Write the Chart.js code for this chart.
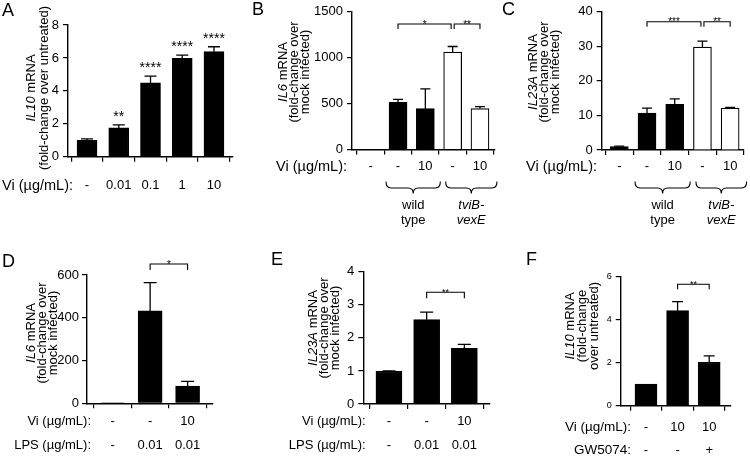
<!DOCTYPE html>
<html><head><meta charset="utf-8">
<script src="https://cdn.jsdelivr.net/npm/chart.js@4.4.0/dist/chart.umd.min.js"></script>
<style>
html,body{margin:0;padding:0;background:#fff;}
#wrap{position:relative;width:750px;height:456px;overflow:hidden;background:#fff;}
#wrap canvas{position:absolute;left:0;top:0;}
</style></head><body><div id="wrap"></div>
<script>
// ---------- Panel A : IL10, Vi dose ----------
const catsA   = ['-', '0.01', '0.1', '1', '10'];
const valsA   = [1.0, 1.75, 4.48, 5.97, 6.38];
const errA    = [0.08, 0.18, 0.42, 0.2, 0.3];
const sigA    = ['', '**', '****', '****', '****'];
const yTicksA = [0, 2, 4, 6, 8];
// ---------- Panel B : IL6, strains ----------
const viB     = ['-', '-', '10', '-', '10'];
const valsB   = [1, 515, 445, 1060, 445];
const errB    = [0, 30, 215, 62, 22];
const fillB   = ['black', 'black', 'black', 'white', 'white'];
const yTicksB = [0, 500, 1000, 1500];
const sigB    = [{from: 1, to: 3, text: '*'}, {from: 3, to: 4, text: '**'}];
// ---------- Panel C : IL23A, strains ----------
const viC     = ['-', '-', '10', '-', '10'];
const valsC   = [1.0, 10.7, 13.2, 29.8, 12.1];
const errC    = [0.1, 1.4, 1.6, 1.7, 0.2];
const fillC   = ['black', 'black', 'black', 'white', 'white'];
const yTicksC = [0, 10, 20, 30, 40];
const sigC    = [{from: 1, to: 3, text: '***'}, {from: 3, to: 4, text: '**'}];
// strain groups (B and C)
const strainNames = [{lines: ['wild', 'type'], italic: false}, {lines: ['tviB-', 'vexE'], italic: true}];
// ---------- Panel D : IL6, LPS ----------
const viD     = ['-', '-', '10'];
const lpsD    = ['-', '0.01', '0.01'];
const valsD   = [1, 432, 80];
const errD    = [0, 132, 23];
const yTicksD = [0, 200, 400, 600];
const sigD    = [{from: 1, to: 2, text: '*'}];
// ---------- Panel E : IL23A, LPS ----------
const viE     = ['-', '-', '10'];
const lpsE    = ['-', '0.01', '0.01'];
const valsE   = [0.99, 2.55, 1.68];
const errE    = [0.01, 0.23, 0.12];
const yTicksE = [0, 1, 2, 3, 4];
const sigE    = [{from: 1, to: 2, text: '**'}];
// ---------- Panel F : IL10, GW5074 ----------
const viF     = ['-', '10', '10'];
const gwF     = ['-', '-', '+'];
const valsF   = [1.0, 4.42, 2.02];
const errF    = [0, 0.42, 0.3];
const yTicksF = [0, 2, 4, 6];
const sigF    = [{from: 1, to: 2, text: '**'}];

const FAM = '"Liberation Sans", Arial, Helvetica, sans-serif';
const FAM_NARROW = '"Liberation Sans Narrow", "Arial Narrow", "Liberation Sans", Arial, sans-serif';
function fnt(size, italic) { return (italic ? 'italic ' : '') + size + 'px ' + FAM; }

function drawRichCentered(ctx, parts, size) {
  let w = 0;
  parts.forEach(p => { ctx.font = fnt(size, p[1]); w += ctx.measureText(p[0]).width; });
  let x = -w / 2;
  ctx.textAlign = 'left';
  parts.forEach(p => { ctx.font = fnt(size, p[1]); ctx.fillText(p[0], x, 0); x += ctx.measureText(p[0]).width; });
}

function brace(ctx, x1, x2, yTop) {
  const xc = (x1 + x2) / 2, ym = yTop + 6.5, yt = yTop + 12, r = 5;
  ctx.beginPath();
  ctx.moveTo(x1, yTop);
  ctx.quadraticCurveTo(x1, ym, x1 + r, ym);
  ctx.lineTo(xc - r, ym);
  ctx.quadraticCurveTo(xc, ym, xc, yt);
  ctx.quadraticCurveTo(xc, ym, xc + r, ym);
  ctx.lineTo(x2 - r, ym);
  ctx.quadraticCurveTo(x2, ym, x2, yTop);
  ctx.stroke();
}

function extraPlugin(cfg) {
  return {
    id: 'extra' + cfg.id,
    afterDraw(chart) {
      const ctx = chart.ctx, xs = chart.scales.x, ys = chart.scales.y;
      const px = i => xs.getPixelForValue(i);
      const py = v => ys.getPixelForValue(v);
      ctx.save();
      ctx.fillStyle = '#000'; ctx.strokeStyle = '#000';
      // error bars
      ctx.lineWidth = 1.3;
      cfg.vals.forEach((v, i) => {
        const e = cfg.err[i]; if (!e) return;
        const x = px(i), y0 = py(v), y1 = py(v + e);
        ctx.beginPath(); ctx.moveTo(x, y0); ctx.lineTo(x, y1);
        ctx.moveTo(x - cfg.capW / 2, y1); ctx.lineTo(x + cfg.capW / 2, y1); ctx.stroke();
      });
      // stars directly above bars
      if (cfg.stars) {
        ctx.font = fnt(cfg.starSize, false); ctx.textAlign = 'center'; ctx.textBaseline = 'alphabetic';
        cfg.stars.forEach((s, i) => { if (s) ctx.fillText(s, px(i), py(cfg.vals[i] + cfg.err[i]) - 4); });
      }
      // brackets
      if (cfg.sig) {
        ctx.lineWidth = 1.1;
        cfg.sig.forEach(s => {
          const x2 = px(s.to) - (s.to === 3 && cfg.sig.length > 1 ? 1.5 : 0);
          const xa = px(s.from) + (s.from === 3 ? 1.5 : 0);
          ctx.beginPath();
          ctx.moveTo(xa, cfg.brY + cfg.brH); ctx.lineTo(xa, cfg.brY); ctx.lineTo(x2, cfg.brY); ctx.lineTo(x2, cfg.brY + cfg.brH);
          ctx.stroke();
          ctx.font = fnt(cfg.sigSize, false); ctx.textAlign = 'center'; ctx.textBaseline = 'alphabetic';
          ctx.fillText(s.text, (xa + x2) / 2, cfg.brY + cfg.sigSize * 0.35);
        });
      }
      // y title
      ctx.textBaseline = 'middle';
      cfg.title.lines.forEach((parts, k) => {
        ctx.save();
        ctx.translate(cfg.title.xs[k], cfg.title.cy);
        ctx.rotate(-Math.PI / 2);
        drawRichCentered(ctx, parts, cfg.title.size);
        ctx.restore();
      });
      // panel letter
      ctx.textBaseline = 'alphabetic'; ctx.textAlign = 'left';
      ctx.font = fnt(18, false);
      ctx.fillText(cfg.letter.text, cfg.letter.x, cfg.letter.y);
      // x label rows
      ctx.textBaseline = 'middle';
      cfg.rows.forEach(r => {
        ctx.font = fnt(cfg.rowSize, false);
        ctx.textAlign = 'right';
        ctx.fillText(r.label, r.right, r.y);
        ctx.font = fnt(cfg.labelSize, false);
        ctx.textAlign = 'center';
        r.cats.forEach((c, i) => ctx.fillText(c, px(i), r.y));
      });
      // braces
      if (cfg.braces) {
        ctx.lineWidth = 1.1;
        cfg.braces.forEach((b, k) => {
          const x1 = px(b.a) + b.da, x2 = px(b.b) + b.db;
          brace(ctx, x1, x2, cfg.braceY);
          const xc = (x1 + x2) / 2;
          ctx.font = fnt(cfg.labelSize, strainNames[k].italic); ctx.textAlign = 'center';
          ctx.fillText(strainNames[k].lines[0], xc, cfg.braceY + 24);
          ctx.fillText(strainNames[k].lines[1], xc, cfg.braceY + 39);
        });
      }
      ctx.restore();
    }
  };
}

const Y_W = 45; // fixed width reserved for y tick labels
function makePanel(cfg) {
  const canvas = document.createElement('canvas');
  canvas.width = 750; canvas.height = 456;
  canvas.style.width = '750px'; canvas.style.height = '456px';
  document.getElementById('wrap').appendChild(canvas);
  const grid = {display: true, drawOnChartArea: false, drawTicks: true, tickLength: 5, color: '#000', lineWidth: 1.2};
  const border = {display: true, color: '#000', width: 1.4};
  new Chart(canvas, {
    type: 'bar',
    data: {datasets: [{
      data: cfg.vals.map((v, i) => ({x: i, y: v})),
      backgroundColor: cfg.fills || 'black',
      borderColor: '#000', borderWidth: 1.2, barThickness: cfg.barW
    }]},
    options: {
      responsive: false, animation: false, events: [],
      layout: {padding: {left: cfg.area[0] - Y_W, top: cfg.area[1], right: 750 - cfg.area[2], bottom: 456 - cfg.area[3]}},
      plugins: {legend: {display: false}, tooltip: {enabled: false}},
      scales: {
        x: {type: 'linear', min: cfg.xmin, max: cfg.xmax, offset: false,
            afterBuildTicks: s => { s.ticks = cfg.vals.map((v, i) => ({value: i})); },
            afterFit: s => { s.height = 0; },
            ticks: {display: false}, grid: grid, border: border},
        y: {type: 'linear', min: 0, max: cfg.yticks[cfg.yticks.length - 1],
            afterBuildTicks: s => { s.ticks = cfg.yticks.map(v => ({value: v})); },
            afterFit: s => { s.width = Y_W; },
            ticks: {color: '#000', padding: cfg.tickPad || 4, font: {family: cfg.tickFam || FAM, size: cfg.tickSize}, callback: v => String(v)},
            grid: grid, border: border}
      }
    },
    plugins: [extraPlugin(cfg)]
  });
}

const viLab = 'Vi (\u00b5g/mL):';
const lpsLab = 'LPS (\u00b5g/mL):';

makePanel({id: 'A', vals: valsA, err: errA, yticks: yTicksA, area: [68, 25, 233, 156.7], xmin: -0.6, xmax: 4.6,
  barW: 20, capW: 12, tickSize: 13, labelSize: 13, rowSize: 14.5, stars: sigA, starSize: 14,
  title: {lines: [[['IL10', true], [' mRNA', false]], [['(fold-change over untreated)', false]]], xs: [31, 44], cy: 88, size: 13},
  letter: {text: 'A', x: 2, y: 16},
  rows: [{label: viLab, right: 73, y: 185.5, cats: catsA}]});

makePanel({id: 'B', vals: valsB, err: errB, fills: fillB, yticks: yTicksB, area: [352, 6, 495, 149.5], xmin: -0.685, xmax: 4.55,
  barW: 18, capW: 10, tickSize: 13, labelSize: 13, rowSize: 14.5, sig: sigB, brY: 24, brH: 5, sigSize: 10,
  title: {lines: [[['IL6', true], [' mRNA', false]], [['(fold-change over', false]], [['mock infected)', false]]], xs: [283, 294, 305], cy: 72, size: 13},
  letter: {text: 'B', x: 252, y: 15},
  rows: [{label: viLab, right: 347, y: 166.7, cats: viB}],
  braces: [{a: 1, b: 2, da: -12, db: 15}, {a: 3, b: 4, da: -7, db: 17}], braceY: 181.5});

makePanel({id: 'C', vals: valsC, err: errC, fills: fillC, yticks: yTicksC, area: [601.7, 6.7, 744, 150], xmin: -0.635, xmax: 4.5,
  barW: 18, capW: 10, tickSize: 13, labelSize: 13, rowSize: 14.5, sig: sigC, brY: 21.7, brH: 5, sigSize: 10,
  title: {lines: [[['IL23A', true], [' mRNA', false]], [['(fold-change over', false]], [['mock infected)', false]]], xs: [533, 544, 555], cy: 72, size: 13},
  letter: {text: 'C', x: 502, y: 15},
  rows: [{label: viLab, right: 597, y: 166.7, cats: viC}],
  braces: [{a: 1, b: 2, da: -12, db: 15.5}, {a: 3, b: 4, da: -6.5, db: 16.5}], braceY: 181.5});

makePanel({id: 'D', vals: valsD, err: errD, yticks: yTicksD, area: [87, 275, 212.7, 403.3], xmin: -0.685, xmax: 2.67,
  barW: 24, capW: 13, tickSize: 13, tickFam: FAM_NARROW, tickPad: 3, labelSize: 13, rowSize: 13, sig: sigD, brY: 264, brH: 6, sigSize: 10,
  title: {lines: [[['IL6', true], [' mRNA', false]], [['(fold-change over', false]], [['mock infected)', false]]], xs: [31, 42, 53], cy: 333, size: 13},
  letter: {text: 'D', x: 2, y: 266.5},
  rows: [{label: viLab, right: 91, y: 421.7, cats: viD}, {label: lpsLab, right: 91, y: 445, cats: lpsD}]});

makePanel({id: 'E', vals: valsE, err: errE, yticks: yTicksE, area: [363.3, 271.7, 490, 404], xmin: -0.68, xmax: 2.68,
  barW: 26, capW: 13, tickSize: 13, labelSize: 13, rowSize: 13, sig: sigE, brY: 292.3, brH: 6, sigSize: 9,
  title: {lines: [[['IL23A', true], [' mRNA', false]], [['(fold-change over', false]], [['mock infected)', false]]], xs: [313, 324, 335], cy: 328, size: 13},
  letter: {text: 'E', x: 271, y: 265},
  rows: [{label: viLab, right: 365.7, y: 421.7, cats: viE}, {label: lpsLab, right: 365.7, y: 445, cats: lpsE}]});

makePanel({id: 'F', vals: valsF, err: errF, yticks: yTicksF, area: [620.7, 276.7, 731, 405.7], xmin: -0.8, xmax: 2.69,
  barW: 22, capW: 11, tickSize: 9, labelSize: 13, rowSize: 13.5, sig: sigF, brY: 284.3, brH: 5, sigSize: 9,
  title: {lines: [[['IL10', true], [' mRNA', false]], [['(fold-change', false]], [['over untreated)', false]]], xs: [570, 582, 594], cy: 326, size: 13},
  letter: {text: 'F', x: 526, y: 265},
  rows: [{label: viLab, right: 631, y: 427.3, cats: viF}, {label: 'GW5074:', right: 631, y: 450, cats: gwF}]});
</script>
</body></html>
